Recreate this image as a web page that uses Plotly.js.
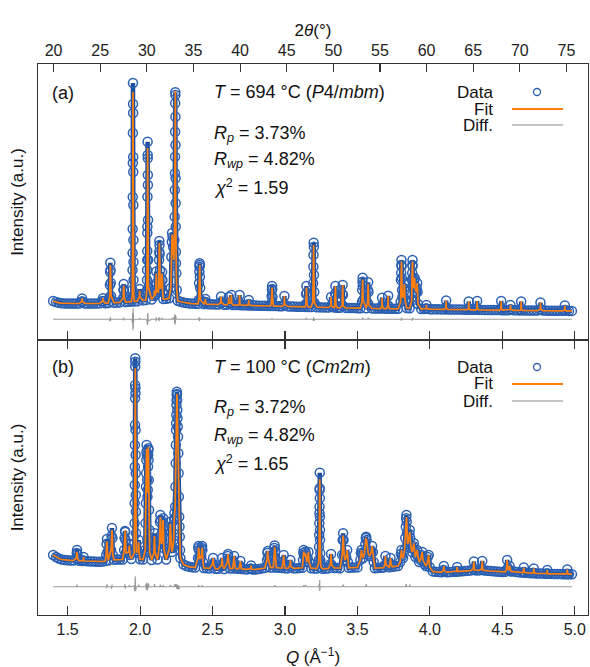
<!DOCTYPE html>
<html><head><meta charset="utf-8">
<script src="https://cdn.plot.ly/plotly-3.0.1.min.js"></script>
<style>html,body{margin:0;padding:0;background:#fff}#plot{width:590px;height:667px}</style>
</head><body><div id="plot"></div>
<script>
// ---------- DATA (intensities in arbitrary units) ----------
// shared Q grid for the background/baseline readings
const qGrid = [
1.40,1.42,1.44,1.46,1.48,1.50,1.52,1.54,1.56,1.58,
1.60,1.62,1.64,1.66,1.68,1.70,1.72,1.74,1.76,1.78,
1.80,1.82,1.84,1.86,1.88,1.90,1.92,1.94,1.96,1.98,
2.00,2.02,2.04,2.06,2.08,2.10,2.12,2.14,2.16,2.18,
2.20,2.22,2.24,2.26,2.28,2.30,2.32,2.34,2.36,2.38,
2.40,2.42,2.44,2.46,2.48,2.50,2.52,2.54,2.56,2.58,
2.60,2.62,2.64,2.66,2.68,2.70,2.72,2.74,2.76,2.78,
2.80,2.82,2.84,2.86,2.88,2.90,2.92,2.94,2.96,2.98,
3.00,3.02,3.04,3.06,3.08,3.10,3.12,3.14,3.16,3.18,
3.20,3.22,3.24,3.26,3.28,3.30,3.32,3.34,3.36,3.38,
3.40,3.42,3.44,3.46,3.48,3.50,3.52,3.54,3.56,3.58,
3.60,3.62,3.64,3.66,3.68,3.70,3.72,3.74,3.76,3.78,
3.80,3.82,3.84,3.86,3.88,3.90,3.92,3.94,3.96,3.98,
4.00,4.02,4.04,4.06,4.08,4.10,4.12,4.14,4.16,4.18,
4.20,4.22,4.24,4.26,4.28,4.30,4.32,4.34,4.36,4.38,
4.40,4.42,4.44,4.46,4.48,4.50,4.52,4.54,4.56,4.58,
4.60,4.62,4.64,4.66,4.68,4.70,4.72,4.74,4.76,4.78,
4.80,4.82,4.84,4.86,4.88,4.90,4.92,4.94,4.96,4.98];

// (a) 694 C : background level between peaks
const baseA = [
290,280,272,268,266,265,265,265,265,265,
265,265,264,264,265,266,266,267,268,270,
272,273,275,276,278,280,282,284,286,288,
292,296,300,302,305,308,310,310,310,312,
318,315,306,292,282,275,270,266,264,262,
262,261,260,259,258,257,256,255,254,253,
252,251,250,250,249,248,247,246,245,245,
244,243,243,242,241,240,240,239,238,237,
236,236,235,234,233,232,232,231,230,229,
228,228,227,226,226,225,224,224,223,222,
222,221,220,220,219,218,218,217,217,216,
216,215,215,214,214,213,213,212,212,212,
214,218,220,218,214,211,210,210,209,209,
208,208,207,207,206,206,206,205,205,204,
204,204,203,203,202,202,202,201,201,200,
200,200,199,199,199,198,198,198,197,197,
197,196,196,196,195,195,195,194,194,194,
194,193,193,193,192,192,192,192,191,191];

// (a) observed points on the Bragg peaks
const peakQA = [
1.598,1.600,1.602, 1.742,1.744,1.746,
1.790,1.792,1.7935,1.795,1.7965,1.798,1.800,
1.883,1.885,1.887,1.889,1.891,
1.9465,1.9475,1.948,1.9485,1.949,1.9495,1.950,1.9505,1.951,1.9515,1.952,1.9525,1.953,1.9535,1.954,1.9545,1.955,1.956,
1.995,1.997,1.999,
2.047,2.048,2.0485,2.049,2.0495,2.050,2.0505,2.051,2.052,2.0525,2.053,2.0535,2.054,2.055,2.056,2.057,
2.097,2.099,2.101, 2.108,2.110,2.112,2.114,2.116,
2.127,2.129,2.131,2.132,2.133,2.134,2.135,2.137,2.139,
2.148,2.150,2.152,2.154,2.156,
2.212,2.216,2.219,2.221,2.224,2.228,2.233,2.237,2.239,2.240,2.241,2.2415,2.242,2.2425,2.243,2.2435,2.244,2.2445,2.245,2.2455,2.246,2.247,2.248,2.250,2.253,
2.405,2.407,2.409,2.410,2.411,2.412,2.413,2.415,2.417,
2.448,2.450,2.452, 2.557,2.559,2.561, 2.610,2.612,2.614, 2.628,2.630,2.632,
2.685,2.687,2.689, 2.748,2.750,2.752,
2.906,2.908,2.910,2.911,2.912,2.914,2.916, 2.994,2.996,2.998,
3.144,3.146,3.148,3.150,3.152,
3.192,3.194,3.196,3.197,3.198,3.199,3.200,3.202,3.204,
3.316,3.318,3.320, 3.344,3.346,3.348,3.350,3.352, 3.394,3.396,3.398,3.400,3.402,
3.531,3.533,3.535,3.536,3.537,3.539, 3.570,3.572,3.574,3.576,3.578,
3.668,3.670,3.672, 3.710,3.712,3.714,
3.798,3.800,3.802,3.803,3.804,3.805,3.806,3.808,3.810, 3.820,3.822,3.824,3.826,3.828,
3.874,3.876,3.878,3.879,3.880,3.881,3.882,3.884, 3.890,3.893,3.895,3.897, 3.906,3.909,3.912,3.915,3.918,
3.974,3.976,3.978, 4.110,4.112,4.114, 4.266,4.268,4.270, 4.324,4.326,4.328,
4.490,4.492,4.494, 4.554,4.556,4.558, 4.628,4.630,4.632, 4.761,4.763,4.765, 4.929,4.931,4.933];
const peakObsA = [
285,315,285, 290,318,288,
330,450,580,672,600,470,340,
320,400,460,405,325,
330,400,600,770,1010,1330,1670,1970,2470,2260,2170,1730,1580,1250,900,680,500,350,
330,410,330,
400,500,600,700,790,970,1033,1333,1883,1750,1717,1550,1450,1100,700,420,
340,395,345, 360,450,585,470,380,
380,520,700,783,890,850,760,600,420,
420,500,580,500,380,
420,730,880,970,930,830,700,900,1133,1400,1567,1733,1983,2267,2377,2350,2133,1850,1517,1267,1033,783,667,567,400,
300,467,583,633,667,650,533,420,300,
280,310,280, 275,335,275, 270,330,268, 268,350,268,
265,350,262, 258,300,258,
270,340,400,440,410,330,265, 255,340,255,
260,360,440,370,260,
280,467,633,750,873,833,550,380,270,
240,330,240, 250,360,440,360,245, 245,360,450,350,240,
280,400,483,523,440,300, 270,400,477,380,250,
240,323,245, 245,343,240,
280,500,570,650,700,640,520,400,330, 330,420,460,400,300,
290,500,570,650,700,640,520,450, 420,500,520,420, 380,420,470,380,260,
215,250,215, 225,295,225, 215,285,215, 215,290,215,
210,290,210, 205,250,205, 205,285,205, 205,275,205, 200,245,200];
// (a) fitted values where the fit departs from the observed points
const fitQA = [
1.792,1.7935,1.795,1.7965,1.885,1.887,1.889,
1.9465,1.9475,1.948,1.9485,1.949,1.9495,1.950,1.9505,1.951,1.9515,1.952,1.9525,1.953,1.9535,1.954,1.9545,1.955,1.956,
1.997,
2.047,2.048,2.0485,2.049,2.0495,2.050,2.0505,2.051,2.052,2.0525,2.053,2.0535,2.054,2.055,2.056,2.057,
2.110,2.112,2.129,2.131,2.133,2.135,2.150,2.152,
2.221,2.237,2.239,2.240,2.241,2.2415,2.242,2.2425,2.243,2.2435,2.244,2.2445,2.245,2.2455,2.246,2.247,2.248,
2.407,2.409,2.411,2.413, 2.910,2.911, 3.146,3.148, 3.196,3.198,3.200, 3.536,3.574,
3.802,3.804,3.806, 3.878,3.880,3.882];
const fitValA = [
470,560,650,615,390,445,415,
350,440,540,820,940,1420,1600,2080,2380,2350,2060,1820,1480,1340,830,730,460,365,
395,
410,480,630,670,830,930,1090,1270,1820,1800,1670,1590,1400,1140,670,435,
470,565,505,720,870,775,490,565,
955,870,1180,1350,1620,1690,2030,2220,2340,2390,2090,1890,1480,1300,1000,810,645,
445,600,650,520, 390,425, 350,425, 650,850,565, 505,460,
585,685,530, 585,685,530];

// (b) 100 C : background level between peaks
const baseB = [
450,430,415,405,400,398,396,395,394,392,
390,390,388,386,384,382,382,385,390,395,
400,402,404,404,405,406,408,410,412,410,
408,405,402,400,400,402,404,405,405,404,
404,405,400,392,375,355,340,332,328,325,
322,322,320,318,316,314,312,312,310,310,
312,314,316,314,312,310,308,306,305,305,
306,310,316,320,322,324,326,325,322,320,
318,316,315,316,318,320,322,322,320,318,
316,314,312,312,314,316,318,320,320,318,
318,320,322,324,326,326,324,322,320,318,
318,318,320,322,324,326,328,332,336,340,
345,350,352,350,346,340,332,322,310,300,
292,286,282,280,278,278,278,280,282,284,
286,288,290,292,294,295,296,296,295,294,
292,290,287,284,282,280,282,284,286,284,
280,276,274,272,270,268,266,265,264,264,
263,262,261,260,260,259,258,258,258,258];

const peakQB = [
1.561,1.563,1.565,1.567,1.569, 1.608,1.610,1.612,
1.766,1.769,1.772,1.775, 1.800,1.803,1.806,1.809,1.812,
1.890,1.893,1.896,1.898,1.900,1.903, 1.922,1.926,1.930,
1.959,1.961,1.962,1.963,1.9635,1.964,1.9645,1.965,1.9655,1.966,1.9665,1.967,1.9675,1.968,1.9685,1.969,1.9695,1.970,1.9705,1.971,1.972,1.974,
1.986,1.990,1.994,
2.036,2.038,2.040,2.041,2.042,2.043,2.044,2.045,2.047,2.049,2.051,2.053,2.055,2.056,2.057,2.058,2.059,2.060,2.062,2.064,2.066,
2.095,2.097,2.099,2.101,2.103,
2.134,2.137,2.140,2.142,2.144,2.148,2.152,2.155,2.157,2.159,2.161,2.164,
2.203,2.206,2.209,2.212,2.215,2.220,2.226,2.232,2.235,2.237,2.239,
2.242,2.244,2.246,2.247,2.248,2.249,2.250,2.251,2.252,2.253,2.254,2.255,2.256,2.257,2.258,2.260,2.262,2.264,2.266,2.268,2.270,2.272,2.274,2.276,2.278,
2.400,2.402,2.404,2.406,2.410,2.416,2.422,2.426,2.428,2.430,2.434,
2.500,2.504,2.508, 2.562,2.566,2.570, 2.602,2.605,2.607,2.610, 2.645,2.649,2.653,
2.688,2.692,2.696, 2.763,2.766,2.769,
2.876,2.879,2.881,2.884, 2.924,2.927,2.929,2.932,2.935,
2.986,2.991,2.995, 3.034,3.037,3.040,
3.124,3.127,3.129,3.132,3.136,3.141,3.145,3.150,3.156,3.162,3.166,
3.230,3.233,3.235,3.236,3.237,3.238,3.2385,3.239,3.2395,3.240,3.2405,3.241,3.2415,3.242,3.243,3.244,3.246,3.249,
3.314,3.318,3.322,
3.395,3.398,3.401,3.404,3.408,3.415,3.422,3.429,3.434,
3.520,3.524,3.528,3.532,3.540,3.548,3.554,3.558,3.560,3.563,3.568,3.575,3.585,3.595,3.601,3.606,3.612,
3.688,3.693,3.698, 3.724,3.728,3.732,
3.795,3.800,3.804,3.808,3.815,3.825,3.830,3.834,3.836,3.838,3.840,3.842,3.846,3.852,3.858,3.861,3.864,3.870,3.878,3.884,3.889,3.894,3.900,3.906,3.912,3.918,3.926,3.935,3.942,3.947,3.952,3.962,3.972,3.980,3.986,3.992,3.998,
4.093,4.096,4.099, 4.185,4.188,4.191, 4.299,4.303,4.307, 4.357,4.361,4.365,
4.528,4.533,4.538,4.545,4.550,4.555,
4.644,4.648,4.652, 4.713,4.717,4.721, 4.807,4.810,4.813, 4.944,4.948,4.952];
const peakObsB = [
420,470,500,460,410, 395,430,392,
450,560,610,480, 500,640,720,620,450,
500,620,690,680,600,470, 480,560,450,
480,567,767,967,1150,1333,1550,1750,2017,2150,2333,2417,2383,2117,2067,1700,1450,1267,1050,883,667,480,
480,600,470,
500,767,967,1133,1267,1400,1483,1550,1450,1200,1033,1100,1333,1450,1517,1500,1400,1200,900,700,480,
470,600,667,590,480,
560,780,850,800,650,560,600,650,780,817,720,520,
520,700,783,680,520,480,520,600,800,867,820,
933,1133,1367,1550,1700,1767,1850,1950,2000,2050,2083,2060,2000,1900,1817,1733,1633,1467,1267,1033,833,733,633,500,420,
420,520,540,500,420,410,440,520,540,500,380,
360,420,350, 350,420,340, 380,440,460,400, 380,440,360,
340,390,330, 315,345,310,
400,470,490,420, 430,520,545,490,400,
380,450,360, 340,400,335,
400,470,500,450,440,483,430,380,420,480,380,
360,400,533,650,767,867,933,1100,1117,1273,1017,833,700,600,467,400,360,330,
360,460,350,
450,600,667,600,450,400,430,500,380,
400,470,500,460,420,460,560,620,633,600,500,460,440,480,540,480,380,
350,440,350, 360,420,360,
380,460,500,440,420,500,620,733,817,850,783,667,560,580,660,700,620,520,480,540,567,500,430,460,500,430,380,400,450,480,400,360,340,360,430,450,330,
300,340,290, 290,330,285, 310,385,300, 310,390,300,
300,400,320,300,340,290,
280,325,275, 272,315,268, 265,300,262, 262,305,260];
const fitQB = [
1.565,1.769,1.772,1.803,1.806,1.896,1.898,1.926,
1.959,1.961,1.962,1.963,1.9635,1.964,1.9645,1.965,1.9655,1.966,1.9665,1.967,1.9675,1.968,1.9685,1.969,1.9695,1.970,1.9705,1.971,1.972,
1.990,
2.040,2.043,2.045,2.047,2.049,2.051,2.055,2.057,2.059,
2.099,2.140,2.159,2.209,2.237,
2.246,2.248,2.250,2.252,2.254,2.255,2.256,2.258,2.260,2.264,2.268,
2.404,2.428,2.929,3.129,3.141,
3.235,3.237,3.238,3.2385,3.239,3.2395,3.240,3.2405,3.241,3.242,
3.401,3.560,3.834,3.838,3.861];
const fitValB = [
480,575,585,660,700,665,700,545,
470,590,760,1010,1170,1380,1540,1790,1930,2120,2230,2317,2300,2130,2000,1680,1490,1230,1080,850,690,
580,
940,1430,1510,1460,1180,1070,1300,1530,1370,
640,830,800,765,845,
1340,1710,1860,2020,2060,2050,2010,1800,1760,1450,1060,
525,525,530,485,470,
515,775,860,960,1070,1160,1207,1050,820,610,
645,610,715,830,680];

// offsets at which the difference curves are drawn
const diffOffsetA = 107, diffOffsetB = 133;
// annotation texts
const infoA = ['<i>T</i> = 694 °C (<i>P</i>4/<i>mbm</i>)', '<i>R<sub>p</sub></i> = 3.73%', '<i>R<sub>wp</sub></i> = 4.82%', '<i>χ</i><sup>2</sup> = 1.59'];
const infoB = ['<i>T</i> = 100 °C (<i>Cm</i>2<i>m</i>)', '<i>R<sub>p</sub></i> = 3.72%', '<i>R<sub>wp</sub></i> = 4.82%', '<i>χ</i><sup>2</sup> = 1.65'];
const legendLabels = ['Data','Fit','Diff.'];
const qTicks = [1.5,2.0,2.5,3.0,3.5,4.0,4.5,5.0];
const tthTicks = [20,25,30,35,40,45,50,55,60,65,70,75];

// ---------- assemble patterns (merge background readings with peak readings) ----------
function assemble(base, pq, po, fq, fv){
  const pts = [];
  const sortedP = pq.slice().sort((a,b)=>a-b);
  for (let i=0;i<qGrid.length;i++){
    const q = qGrid[i];
    let below = -Infinity, above = Infinity;
    for (const p of sortedP){ if (p<=q) below=p; else { above=p; break; } }
    const near = (q-below)<0.0035 || (above-q)<0.0035;
    const inside = (q-below)<0.012 && (above-q)<0.012;
    if (!near && !inside) pts.push([q, base[i], base[i]]);
  }
  const fit = {};
  fq.forEach((q,i)=>{ fit[q.toFixed(4)] = fv[i]; });
  pq.forEach((q,i)=>{
    const k = q.toFixed(4);
    pts.push([q, po[i], (k in fit) ? fit[k] : po[i]]);
  });
  pts.sort((a,b)=>a[0]-b[0]);
  return {q: pts.map(p=>p[0]), obs: pts.map(p=>p[1]), calc: pts.map(p=>p[2])};
}
const A = assemble(baseA, peakQA, peakObsA, fitQA, fitValA);
const B = assemble(baseB, peakQB, peakObsB, fitQB, fitValB);
const diffA = A.obs.map((o,i)=>o - A.calc[i] + diffOffsetA);
const diffB = B.obs.map((o,i)=>o - B.calc[i] + diffOffsetB);

// ---------- styling ----------
const FONT = 'Liberation Sans, Arial, sans-serif';
const BLUE = '#2a5fb2', BAND = '#1f4f9c', ORANGE = '#ff7f0e', GREY = '#999999', AX = '#333333';
const W=590, H=667, ml=38, mr=2, mt=64, mb=52;
const fx = x => (x-ml)/(W-ml-mr);
const fy = y => (H-mb-y)/(H-mt-mb);
const split = fy(340);

function dataTrace(P, xa, ya){
  return {x:P.q, y:P.obs, xaxis:xa, yaxis:ya, mode:'lines+markers', type:'scatter',
    line:{color:BAND, width:4.5},
    marker:{symbol:'circle-open', size:9, color:BLUE, line:{width:1.5, color:BLUE}},
    hoverinfo:'skip', showlegend:false};
}
function fitTrace(P, xa, ya){
  return {x:P.q, y:P.calc, xaxis:xa, yaxis:ya, mode:'lines', type:'scatter',
    line:{color:ORANGE, width:1.7}, hoverinfo:'skip', showlegend:false};
}
function diffTrace(P, d, xa, ya){
  return {x:P.q, y:d, xaxis:xa, yaxis:ya, mode:'lines', type:'scatter',
    line:{color:GREY, width:1.1}, hoverinfo:'skip', showlegend:false};
}
const traces = [
  diffTrace(A, diffA, 'x2','y2'), dataTrace(A,'x2','y2'), fitTrace(A,'x2','y2'),
  diffTrace(B, diffB, 'x','y'), dataTrace(B,'x','y'), fitTrace(B,'x','y'),
  {x:[], y:[], xaxis:'x3', yaxis:'y2', type:'scatter', mode:'markers', showlegend:false, hoverinfo:'skip'}
];

const qRange = [1.2957, 5.091];
const axBase = {showline:true, linecolor:AX, linewidth:1.2, ticks:'inside', ticklen:9, tickwidth:1.1, tickcolor:AX,
  showgrid:false, zeroline:false, automargin:false, tickfont:{family:FONT, size:16, color:'#222'}};

const annotations = [];
function addText(t, x, y, xanchor, size, h){
  const a = {text:t, xref:'paper', yref:'paper', x:fx(x), y:fy(y), xanchor:xanchor, yanchor:'middle',
    showarrow:false, font:{family:FONT, size:size||18, color:'#111'}};
  if (h) a.height = h;
  annotations.push(a);
}
addText('(a)', 63, 93, 'center');
addText('(b)', 63, 367, 'center');
const rowsA = [92, 134, 160, 187], rowsB = [367, 408, 436, 463];
infoA.forEach((t,i)=>addText(t, 212, rowsA[i], 'left', 18, i>0 ? 24 : null));
infoB.forEach((t,i)=>addText(t, 212, rowsB[i], 'left', 18, i>0 ? 24 : null));
const legRowsA = [92, 109, 125], legRowsB = [367, 384, 401];
legendLabels.forEach((t,i)=>{ addText(t, 495, legRowsA[i], 'right', 17, 15); addText(t, 495, legRowsB[i], 'right', 17, 15); });

const shapes = [];
[legRowsA, legRowsB].forEach(r=>{
  shapes.push({type:'circle', xref:'paper', yref:'paper', x0:fx(533.5), x1:fx(540.5), y0:fy(r[0]+3.5), y1:fy(r[0]-3.5),
    line:{color:BLUE, width:1.3}, fillcolor:'rgba(0,0,0,0)'});
  shapes.push({type:'line', xref:'paper', yref:'paper', x0:fx(512), x1:fx(563), y0:fy(r[1]), y1:fy(r[1]), line:{color:ORANGE, width:2}});
  shapes.push({type:'line', xref:'paper', yref:'paper', x0:fx(512), x1:fx(563), y0:fy(r[2]), y1:fy(r[2]), line:{color:'#b0b0b0', width:1.5}});
});

const layout = {
  width:W, height:H, margin:{l:ml, r:mr, t:mt, b:mb, pad:0},
  paper_bgcolor:'#fff', plot_bgcolor:'#fff', showlegend:false,
  font:{family:FONT, color:'#111'},
  xaxis: Object.assign({}, axBase, {domain:[0,1], anchor:'y', range:qRange, tickvals:qTicks,
    ticktext:qTicks.map(v=>v.toFixed(1)), mirror:'ticks',
    title:{text:'<i>Q</i> (Å<sup>−1</sup>)', font:{family:FONT, size:17, color:'#111'}, standoff:13}}),
  xaxis2: Object.assign({}, axBase, {domain:[0,1], anchor:'y2', range:qRange, tickvals:qTicks,
    showticklabels:false, mirror:false}),
  xaxis3: Object.assign({}, axBase, {overlaying:'x2', anchor:'y2', side:'top', range:[18.33, 77.31],
    tickvals:tthTicks, ticktext:tthTicks.map(String), ticklen:8,
    title:{text:'2<i>θ</i>(°)', font:{family:FONT, size:17, color:'#111'}, standoff:1}}),
  yaxis: {domain:[0, split], anchor:'x', range:[-150, 2600], showline:true, linecolor:AX, linewidth:1.2, mirror:true,
    ticks:'', showticklabels:false, showgrid:false, zeroline:false, automargin:false,
    title:{text:'Intensity (a.u.)', font:{family:FONT, size:17, color:'#111'}, standoff:8}},
  yaxis2: {domain:[split, 1], anchor:'x2', range:[-100, 2660], showline:true, linecolor:AX, linewidth:1.2, mirror:true,
    ticks:'', showticklabels:false, showgrid:false, zeroline:false, automargin:false,
    title:{text:'Intensity (a.u.)', font:{family:FONT, size:17, color:'#111'}, standoff:8}},
  annotations: annotations, shapes: shapes
};
Plotly.newPlot('plot', traces, layout, {staticPlot:true, displayModeBar:false});
</script></body></html>
